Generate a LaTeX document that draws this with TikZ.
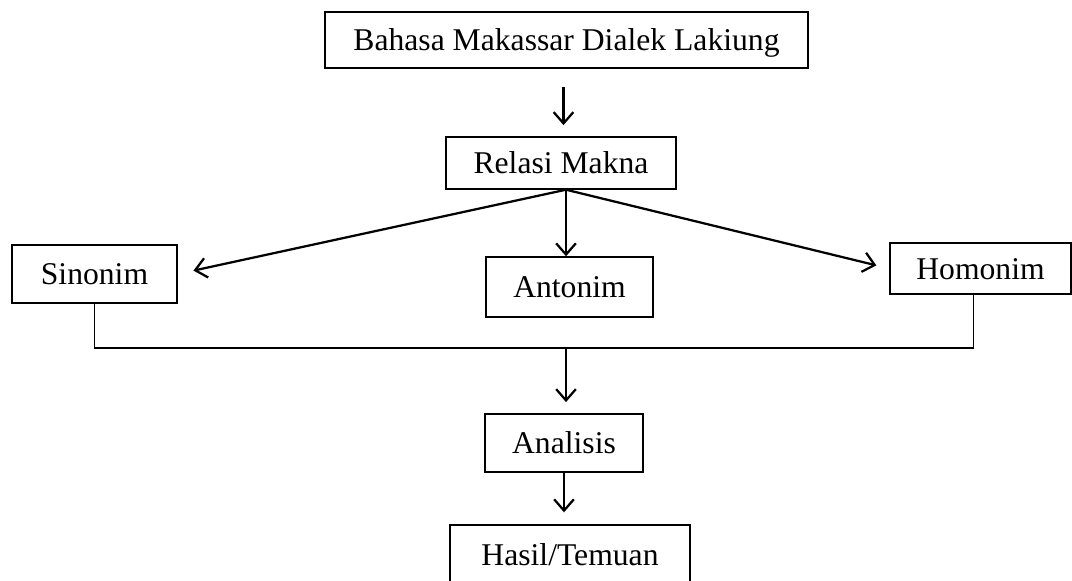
\documentclass[tikz,border=0pt]{standalone}
\usepackage{fontspec}
\setmainfont{Liberation Serif}
\usetikzlibrary{arrows.meta}
\usetikzlibrary{calc}

\begin{document}
\begin{tikzpicture}[x=0.025cm, y=-0.025cm,
  box/.style={draw, line width=1pt, inner sep=0pt, text height=15pt, text depth=0pt, font=\fontsize{22.5}{27}\selectfont},
  arr/.style={line width=1.6pt, -{Straight Barb[length=8pt,width=14pt,line width=1.6pt]}}]
\useasboundingbox (0,0) rectangle (1072,580);

\node[box, minimum width=12.08cm, minimum height=1.40cm] (bahasa) at (566.5,40) {Bahasa Makassar Dialek Lakiung};
\node[box, minimum width=5.75cm, minimum height=1.30cm] (relasi) at (561,163) {Relasi Makna};
\node[box, minimum width=4.13cm, minimum height=1.45cm] (sinonim) at (94.5,274) {Sinonim};
\node[box, minimum width=4.18cm, minimum height=1.50cm] (antonim) at (569.5,287) {Antonim};
\node[box, minimum width=4.53cm, minimum height=1.28cm] (homonim) at (980.5,268.5) {Homonim};
\node[box, minimum width=3.95cm, minimum height=1.45cm] (analisis) at (564,443) {Analisis};
\node[box, minimum width=6.00cm, minimum height=1.50cm] (hasil) at (570,555) {Hasil/Temuan};

\coordinate (top) at ($(bahasa.south)+(-3,0)$);
\coordinate (fork) at ($(relasi.south)+(5,0)$);
\coordinate (merge) at (566,348);

\draw[arr, shorten <=0.45cm, shorten >=0.28cm] (top) -- (top |- relasi.north);
\draw[arr, shorten >=0.4cm] (fork) -- (sinonim.east);
\draw[arr] (fork) -- (fork |- antonim.north);
\draw[arr, shorten >=0.33cm] (fork) -- (homonim.west);

\draw[line width=1.2pt] (sinonim.south) |- (merge) -| ($(homonim.south)+(-7,0)$);
\draw[arr, shorten >=0.28cm] (merge) -- (merge |- analisis.north);
\draw[arr, shorten >=0.3cm] (analisis.south) -- (analisis.south |- hasil.north);
\end{tikzpicture}
\end{document}
